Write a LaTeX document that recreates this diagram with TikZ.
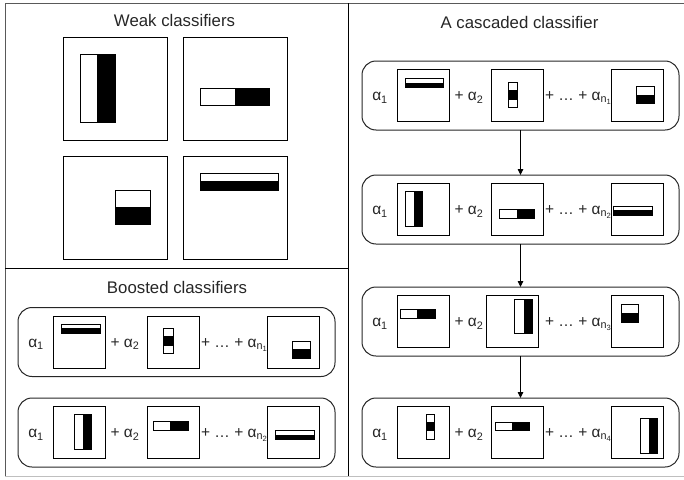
\documentclass[tikz,border=0pt]{standalone}
\usepackage{fontspec}
\setmainfont{Liberation Sans}
\usetikzlibrary{arrows.meta}

% Haar-like features drawn inside a square node, in local coordinates
% measured from the square's top-left corner (y grows downwards).
% white left part, black right part: square, x0, xm, x1, y0, y1
\newcommand\featlr[6]{%
  \begin{scope}[shift={(#1.north west)}]
    \draw[feat] (#2,#5) rectangle (#4,#6);
    \fill (#3,#5) rectangle (#4,#6);
  \end{scope}}
% white top part, black bottom part: square, x0, x1, y0, ym, y1
\newcommand\feattb[6]{%
  \begin{scope}[shift={(#1.north west)}]
    \draw[feat] (#2,#4) rectangle (#3,#6);
    \fill (#2,#5) rectangle (#3,#6);
  \end{scope}}
% white / black / white stacked: square, x0, x1, y0, y1, y2, y3
\newcommand\featwbw[7]{%
  \begin{scope}[shift={(#1.north west)}]
    \draw[feat] (#2,#4) rectangle (#3,#7);
    \fill (#2,#5) rectangle (#3,#6);
  \end{scope}}

\begin{document}
\begin{tikzpicture}[x=1pt,y=-1pt,
  frame/.style={line width=1pt,black!65},
  framelow/.style={line width=1pt,black!25},
  divider/.style={line width=1pt,black},
  title/.style={font=\fontsize{16.8}{20}\selectfont,text=black!85,inner sep=0pt,anchor=base},
  rbox/.style={draw=black!85,line width=1pt,rounded corners=14pt,
    minimum width=317pt,minimum height=69pt,inner sep=0pt,outer sep=0pt},
  weaksq/.style={draw,line width=1pt,minimum width=104pt,minimum height=103pt,
    inner sep=0pt,outer sep=0pt},
  sq/.style={draw,line width=1pt,minimum size=52pt,inner sep=0pt,outer sep=0pt},
  lbl/.style={font=\fontsize{15.5}{18}\selectfont,text=black!85,inner sep=0pt,anchor=base},
  feat/.style={draw,fill=white,line width=0.9pt},
  link/.style={line width=0.9pt,-{Triangle[length=6pt,width=5.5pt]}}]

\useasboundingbox (0,0) rectangle (684,479);

% panel frame and dividers
\draw[frame] (5,476) -- (5,3) -- (684,3);
\draw[framelow] (5,476) -- (684,476);
\draw[divider] (348,3) -- (348,476);
\draw[divider] (5,268) -- (348,268);

% ---------- weak classifiers ----------
\node[title] (tweak) at (174.5,26) {Weak classifiers};
\node[weaksq] (w1) at (115,88.5) {};
\node[weaksq] (w2) at (235,88.5) {};
\node[weaksq] (w3) at (115,207.5) {};
\node[weaksq] (w4) at (235,207.5) {};
\featlr{w1}{17.7}{34.3}{52.7}{17}{85.7}
\featlr{w2}{17.7}{52}{86.3}{51.3}{68.7}
\feattb{w3}{52}{87}{34}{50.7}{68.7}
\feattb{w4}{17.7}{95.7}{17}{25.3}{34.7}

% ---------- boosted classifiers ----------
\node[title] (tboost) at (177,293) {Boosted classifiers};

\node[rbox] (b1) at (176.5,342) {};
\node[sq] (b1a) at (79,342) {};
\node[sq] (b1b) at (173,342) {};
\node[sq] (b1c) at (293,342) {};
\node[lbl] (b1l1) at (36,347.3) {α\textsubscript{1}};
\node[lbl] (b1l2) at (125,347.3) {+ α\textsubscript{2}};
\node[lbl] (b1l3) at (234.5,347.3) {+ … + α\textsubscript{n\textsubscript{1}}};
\feattb{b1a}{8.3}{47}{8.3}{12.3}{17.3}
\featwbw{b1b}{16.7}{26}{12.7}{20}{30}{37.7}
\feattb{b1c}{25.7}{43.3}{25}{33.3}{42.7}

\node[rbox] (b2) at (176.5,432.5) {};
\node[sq] (b2a) at (79,432.5) {};
\node[sq] (b2b) at (173,432.5) {};
\node[sq] (b2c) at (293,432.5) {};
\node[lbl] (b2l1) at (36,437.8) {α\textsubscript{1}};
\node[lbl] (b2l2) at (125,437.8) {+ α\textsubscript{2}};
\node[lbl] (b2l3) at (234.5,437.8) {+ … + α\textsubscript{n\textsubscript{2}}};
\featlr{b2a}{21.7}{29.7}{38.7}{8.3}{43.3}
\featlr{b2b}{6}{23.3}{41}{15}{24}
\feattb{b2c}{8.3}{47.3}{24.3}{28.3}{33.3}

% ---------- cascaded classifier ----------
\node[title] (tcasc) at (519.5,28) {A cascaded classifier};

\node[rbox] (c1) at (520.5,95.5) {};
\node[sq] (c1a) at (423,95.5) {};
\node[sq] (c1b) at (517,95.5) {};
\node[sq] (c1c) at (637,95.5) {};
\node[lbl] (c1l1) at (380,100.8) {α\textsubscript{1}};
\node[lbl] (c1l2) at (469,100.8) {+ α\textsubscript{2}};
\node[lbl] (c1l3) at (578.5,100.8) {+ … + α\textsubscript{n\textsubscript{1}}};
\feattb{c1a}{8.3}{46.7}{9}{13.3}{18}
\featwbw{c1b}{17.3}{26}{13}{20.7}{30}{38.3}
\feattb{c1c}{25}{43.3}{16.7}{25}{34}

\node[rbox] (c2) at (520.5,209.5) {};
\node[sq] (c2a) at (423,209.5) {};
\node[sq] (c2b) at (517,209.5) {};
\node[sq] (c2c) at (637,209.5) {};
\node[lbl] (c2l1) at (380,214.8) {α\textsubscript{1}};
\node[lbl] (c2l2) at (469,214.8) {+ α\textsubscript{2}};
\node[lbl] (c2l3) at (578.5,214.8) {+ … + α\textsubscript{n\textsubscript{2}}};
\featlr{c2a}{8.3}{16.7}{25.7}{8.3}{43.3}
\featlr{c2b}{8.3}{25.7}{43.3}{26}{35}
\feattb{c2c}{2.7}{41.7}{22.7}{26.7}{31.7}

\node[rbox] (c3) at (520.5,321.5) {};
\node[sq] (c3a) at (423,321.5) {};
\node[sq] (c3b) at (512,321.5) {};
\node[sq] (c3c) at (637,321.5) {};
\node[lbl] (c3l1) at (380,326.8) {α\textsubscript{1}};
\node[lbl] (c3l2) at (469,326.8) {+ α\textsubscript{2}};
\node[lbl] (c3l3) at (578.5,326.8) {+ … + α\textsubscript{n\textsubscript{3}}};
\featlr{c3a}{3.7}{20}{38.3}{14}{23}
\featlr{c3b}{28.3}{37.7}{46}{4}{38.3}
\feattb{c3c}{10}{27.7}{9.3}{17.7}{26.7}

\node[rbox] (c4) at (520.5,432.5) {};
\node[sq] (c4a) at (423,432.5) {};
\node[sq] (c4b) at (517,432.5) {};
\node[sq] (c4c) at (637,432.5) {};
\node[lbl] (c4l1) at (380,437.8) {α\textsubscript{1}};
\node[lbl] (c4l2) at (469,437.8) {+ α\textsubscript{2}};
\node[lbl] (c4l3) at (578.5,437.8) {+ … + α\textsubscript{n\textsubscript{4}}};
\featwbw{c4a}{29.3}{37.7}{7.7}{15.7}{24.3}{33.3}
\featlr{c4b}{4}{21}{38.3}{15.7}{24.3}
\featlr{c4c}{29.3}{37.7}{46.7}{11.7}{46.7}

% cascade stages
\draw[link] (c1) -- (c2);
\draw[link] (c2) -- (c3);
\draw[link] (c3) -- (c4);

\end{tikzpicture}
\end{document}
